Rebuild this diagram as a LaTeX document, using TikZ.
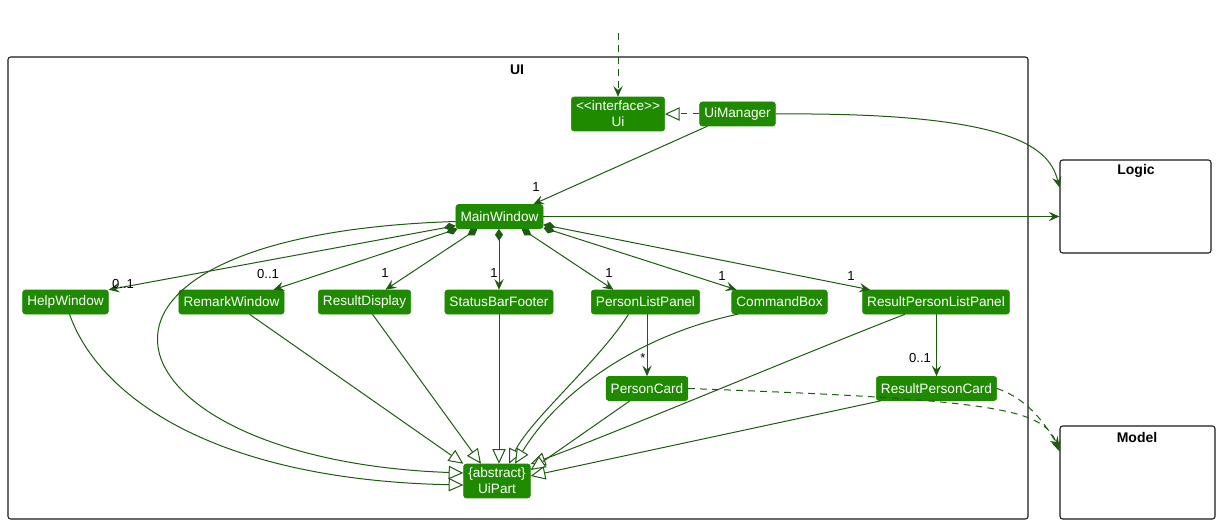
\documentclass[tikz,border=0pt]{standalone}
\usepackage{fontspec}
\setmainfont{Liberation Sans}
\usetikzlibrary{arrows.meta,calc}
\definecolor{nodefill}{HTML}{1F8A00}
\definecolor{edgecol}{HTML}{1E5A12}
\definecolor{pkgline}{HTML}{181818}
\begin{document}
\begin{tikzpicture}[x=0.75pt,y=-0.75pt,
  cls/.style={fill=nodefill, draw=nodefill, rounded corners=2pt, text=white,
    font=\fontsize{10.2}{12}\selectfont, inner xsep=3.5pt, inner ysep=0pt,
    minimum height=18pt, align=center},
  pkg/.style={draw=pkgline, rounded corners=2pt, line width=0.8pt, inner sep=0pt},
  ptitle/.style={font=\bfseries\fontsize{10.5}{12}\selectfont, inner sep=0pt},
  mult/.style={font=\fontsize{9.8}{11}\selectfont, inner sep=0pt},
  ln/.style={draw=edgecol, line width=0.75pt},
  nav/.style={ln, -{Stealth[length=8pt,width=7pt,inset=3pt]}},
  comp/.style={ln, {Diamond[length=9pt,width=6pt]}-{Stealth[length=8pt,width=7pt,inset=3pt]}},
  inh/.style={ln, -{Triangle[length=11pt,width=10pt,fill=white]}},
  dep/.style={nav, dash pattern=on 5pt off 4pt}
]
\useasboundingbox (0,0) rectangle (1220,524);

% packages
\node[pkg, minimum width=765pt, minimum height=346.5pt] (uipkg) at (518,288) {};
\node[ptitle] (uititle) at (517,70) {UI};
\node[pkg, minimum width=113.25pt, minimum height=69.75pt] (logic) at (1135.5,206.5) {};
\node[ptitle] (logictitle) at (1136,171) {Logic};
\node[pkg, minimum width=116.25pt, minimum height=69.75pt] (model) at (1137.5,472.5) {};
\node[ptitle] (modeltitle) at (1137,437) {Model};

% classes
\node[cls, inner ysep=3pt] (ui) at (618,114) {<\kern0pt<interface>\kern0pt>\\Ui};
\node[cls] (uim) at (737.5,114) {UiManager};
\node[cls] (mw) at (499.5,216.5) {MainWindow};
\node[cls] (hw) at (65.5,302) {HelpWindow};
\node[cls] (rw) at (231.5,302) {RemarkWindow};
\node[cls] (rd) at (364.5,302) {ResultDisplay};
\node[cls] (sbf) at (499,302) {StatusBarFooter};
\node[cls] (plp) at (645.5,302) {PersonListPanel};
\node[cls] (cb) at (779.5,302) {CommandBox};
\node[cls] (rplp) at (936,302) {ResultPersonListPanel};
\node[cls] (pc) at (647,388.5) {PersonCard};
\node[cls] (rpc) at (936.5,388.5) {ResultPersonCard};
\node[cls, inner ysep=3pt] (up) at (497,481) {\{abstract\}\\UiPart};

% external dependency into Ui
\coordinate (ext) at (618,33);
\draw[dep] (ext) -- (ui);

% realization
\draw[ln, dash pattern=on 5pt off 4pt, -{Triangle[length=11pt,width=10pt,fill=white]}] (uim) -- (ui);

% UiManager -> MainWindow
\draw[nav] ($(uim.south west)+(8,0)$) -- ($(mw.north east)+(-10,0)$);
\node[mult] (m1) at (536,187) {1};

% to Logic
\draw[nav] (uim.east) .. controls (1020,112) and (1050,150) .. ($(logic.north west)+(0,28)$);
\draw[nav] (mw.east) -- (mw.east -| logic.west);

% compositions
\draw[comp] ($(mw.south west)+(0,-3)$) -- (hw.north east);
\node[mult] (l1) at (123,284) {0..1};
\draw[comp] ($(mw.south west)+(2,0)$) -- ($(rw.north)+(42,0)$);
\node[mult] (l2) at (268,274) {0..1};
\draw[comp] ($(mw.south)+(-22,0)$) -- ($(rd.north)+(21,0)$);
\node[mult] (l3) at (385,273) {1};
\draw[comp] (mw.south -| sbf.north) -- (sbf.north);
\node[mult] (l4) at (494,273) {1};
\draw[comp] ($(mw.south)+(22,0)$) -- ($(plp.north)+(-32,0)$);
\node[mult] (l5) at (609,273) {1};
\draw[comp] ($(mw.south east)+(0,-1)$) -- ($(cb.north)+(-43,0)$);
\node[mult] (l6) at (722,276) {1};
\draw[comp] ($(mw.south east)+(0,-4)$) -- ($(rplp.north)+(-66,0)$);
\node[mult] (l7) at (851,276) {1};

% inner navigations
\draw[nav] (pc.north |- plp.south) -- (pc.north);
\node[mult] (l8) at (643,358) {*};
\draw[nav] (rpc.north |- rplp.south) -- (rpc.north);
\node[mult] (l9) at (920,358) {0..1};

% inheritance to UiPart
\draw[inh] ($(mw.west)+(0,5)$) .. controls (20,235) and (100,460) .. ($(up.west)+(0,-8)$);
\draw[inh] ($(hw.south)+(4,0)$) .. controls (100,400) and (220,480) .. ($(up.west)+(0,4)$);
\draw[inh] ($(rw.south)+(18,0)$) -- (up.north west);
\draw[inh] ($(rd.south)+(8,0)$) -- ($(up.north)+(-16,0)$);
\draw[inh] (sbf.south) -- (sbf.south |- up.north);
\draw[inh] ($(plp.south)+(-17,0)$) .. controls (600,360) and (530,420) .. ($(up.north)+(12,0)$);
\draw[inh] ($(cb.south)+(-42,0)$) .. controls (640,335) and (560,390) .. ($(up.north)+(18,0)$);
\draw[inh] ($(rplp.south)+(-31,0)$) .. controls (800,355) and (610,435) .. ($(up.east)+(0,-17)$);
\draw[inh] ($(pc.south)+(-17,0)$) -- ($(up.east)+(0,-11)$);
\draw[inh] ($(rpc.south west)+(5,0)$) -- ($(up.east)+(0,-5)$);

% dependencies to Model
\draw[dep] (pc.east) .. controls (1010,400) and (1045,410) .. ($(model.north west)+(0,26)$);
\draw[dep] (rpc.east) .. controls (1030,400) and (1045,425) .. ($(model.north west)+(0,22)$);
\end{tikzpicture}
\end{document}
